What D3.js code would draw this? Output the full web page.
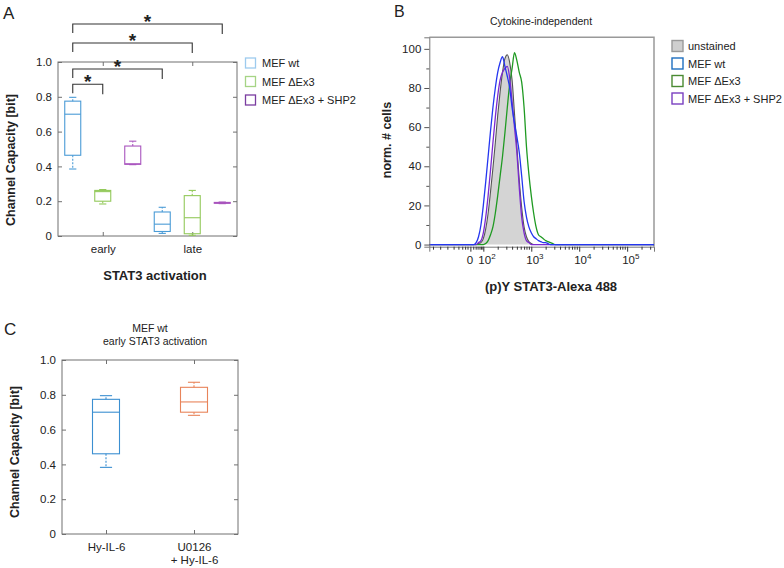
<!DOCTYPE html>
<html><head><meta charset="utf-8">
<script src="https://cdn.jsdelivr.net/npm/d3@7"></script>
<style>
body{margin:0;background:#fff}
svg{font-family:"Liberation Sans",Arial,Helvetica,sans-serif}
</style>
</head><body>
<svg id="chart" width="784" height="568"></svg>
<script>
// ---------------- DATA ----------------
// Panel A: box statistics [min, q1, median, q3, max] per category (early, late)
const catsA = ["early", "late"];
const seriesA = ["MEF wt", "MEF \u0394Ex3", "MEF \u0394Ex3 + SHP2"];
const boxWtA    = [[0.385, 0.464, 0.700, 0.775, 0.797], [0.015, 0.026, 0.068, 0.138, 0.165]];
const boxDEx3A  = [[0.184, 0.200, 0.255, 0.262, 0.267], [0.004, 0.013, 0.105, 0.232, 0.262]];
const boxShp2A  = [[0.410, 0.412, 0.415, 0.517, 0.545], [0.186, 0.188, 0.190, 0.193, 0.195]];
const ticksA = [0, 0.2, 0.4, 0.6, 0.8, 1.0];
// significance brackets: from (series, category) to (series, category) at a level
const sigFromSeries = ["MEF wt", "MEF wt", "MEF wt", "MEF wt"];
const sigFromCat    = ["early", "early", "early", "early"];
const sigToSeries   = ["MEF \u0394Ex3", "MEF wt", "MEF \u0394Ex3", "MEF \u0394Ex3 + SHP2"];
const sigToCat      = ["early", "late", "late", "late"];
const sigLevel      = [0.872, 0.960, 1.109, 1.218];
const sigLabel      = ["*", "*", "*", "*"];

// Panel B: histograms (x in display decades of a logicle axis, y = norm. # cells)
const histBins = [1.80,1.85,1.90,1.95,2.00,2.05,2.10,2.15,2.20,2.25,2.30,2.35,2.40,2.45,2.50,2.55,2.60,2.65,2.70,2.75,2.80,2.85,2.90,2.95,3.00,3.05,3.10,3.15,3.20,3.25,3.30,3.35,3.40,3.45,3.50];
const histUnstained = [0,0,0.5,1,3,8,16,27,39,52,66,78,88,95,97,93,84,67,50,33,19,9,4,1.5,0.5,0,0,0,0,0,0,0,0,0,0];
const histWt        = [0,1,4,10,20,32,45,58,70,80,88,93,96,91,86,80,70,62,55,47,35,22,14,9,6,4,3,2,1.5,1,1,0.5,0,0,0];
const histDEx3      = [0,0,0,0,0,0.5,2,5,9,16,25,35,45,57,70,82,90,98,94,88,83,70,50,36,25,16,9,5,4,3,2,1.5,1,0.5,0];
const histShp2      = [0,0,1,2,6,14,25,38,52,65,76,84,88,90,91,85,73,60,47,29,14,6,2,1,0,0,0,0,0,0,0,0,0,0,0];
const seriesB = ["unstained", "MEF wt", "MEF \u0394Ex3", "MEF \u0394Ex3 + SHP2"];
const ticksBy = [0, 20, 40, 60, 80, 100];
const minorBy = [10, 30, 50, 70, 90];
const ticksBxPos = [1.73, 2, 3, 4, 5];
const ticksBxBase = ["0", "10", "10", "10", "10"];
const ticksBxExp = ["", "2", "3", "4", "5"];
const minorBx = [0.95,1.10,1.25,1.38,1.48,1.56,1.62,1.67,1.79,1.84,1.88,1.92,1.95,1.98,
  2.30,2.48,2.60,2.70,2.78,2.85,2.90,2.95,3.30,3.48,3.60,3.70,3.78,3.85,3.90,3.95,
  4.30,4.48,4.60,4.70,4.78,4.85,4.90,4.95,5.30,5.48];

// Panel C
const catsC = ["Hy-IL-6", "U0126 + Hy-IL-6"];
const catLinesC = [["Hy-IL-6"], ["U0126", "+ Hy-IL-6"]];
const boxC = [[0.383, 0.461, 0.700, 0.774, 0.795], [0.682, 0.700, 0.759, 0.843, 0.872]];
const ticksC = [0, 0.2, 0.4, 0.6, 0.8, 1.0];

// ---------------- STYLE ----------------
const colA = {"MEF wt": "#4a9bd6", "MEF \u0394Ex3": "#93c95a", "MEF \u0394Ex3 + SHP2": "#a955be"};
const legColA = {"MEF wt": "#9dcbee", "MEF \u0394Ex3": "#a6d485", "MEF \u0394Ex3 + SHP2": "#7a3ca0"};
const colB = {"unstained": "#555555", "MEF wt": "#2436f0", "MEF \u0394Ex3": "#1f9a22", "MEF \u0394Ex3 + SHP2": "#7a2ad0"};
const legColB = {"unstained": "#9a9a9a", "MEF wt": "#1f6fc0", "MEF \u0394Ex3": "#4a8a32", "MEF \u0394Ex3 + SHP2": "#7a3fc0"};
const colC = ["#3b8fd1", "#e8845a"];
const axisCol = "#707070";
const textCol = "#222";

const svg = d3.select("#chart");

function styleAxis(g, showText) {
  g.select(".domain").remove();
  g.selectAll(".tick line").attr("stroke", axisCol);
  g.selectAll(".tick text").attr("fill", textCol).style("font-size", "11.5px")
    .style("display", showText ? null : "none");
}

function boxPanel(g, x, y, cx, w, s, col) {
  const [mn, q1, md, q3, mx] = s.map(y);
  const cw = w * 0.45;
  const gg = g.append("g").attr("stroke", col).attr("fill", "none").attr("stroke-width", 1.1);
  gg.append("line").attr("x1", cx).attr("x2", cx).attr("y1", q1).attr("y2", mn).attr("stroke-dasharray", "2,1.5");
  gg.append("line").attr("x1", cx).attr("x2", cx).attr("y1", q3).attr("y2", mx).attr("stroke-dasharray", "2,1.5");
  gg.append("line").attr("x1", cx - cw/2).attr("x2", cx + cw/2).attr("y1", mn).attr("y2", mn);
  gg.append("line").attr("x1", cx - cw/2).attr("x2", cx + cw/2).attr("y1", mx).attr("y2", mx);
  gg.append("rect").attr("x", cx - w/2).attr("width", w).attr("y", q3).attr("height", Math.max(q1 - q3, 0.5));
  gg.append("line").attr("x1", cx - w/2).attr("x2", cx + w/2).attr("y1", md).attr("y2", md);
}

function frameAxes(g, x, y, L, R, T, Bm, yticks, xLabelFn) {
  g.append("rect").attr("x", L).attr("y", T).attr("width", R - L).attr("height", Bm - T)
    .attr("fill", "none").attr("stroke", axisCol).attr("stroke-width", 1);
  const fmt = d => d === 0 ? "0" : d3.format(".1f")(d);
  g.append("g").attr("transform", `translate(${L},0)`)
    .call(d3.axisLeft(y).tickValues(yticks).tickSize(-4).tickPadding(6).tickFormat(fmt))
    .call(a => styleAxis(a, true));
  g.append("g").attr("transform", `translate(${R},0)`)
    .call(d3.axisRight(y).tickValues(yticks).tickSize(-4))
    .call(a => styleAxis(a, false));
  g.append("g").attr("transform", `translate(0,${T})`)
    .call(d3.axisTop(x).tickSize(-4))
    .call(a => styleAxis(a, false));
  const bx = g.append("g").attr("transform", `translate(0,${Bm})`)
    .call(d3.axisBottom(x).tickSize(-4).tickPadding(9))
    .call(a => styleAxis(a, true));
  if (xLabelFn) xLabelFn(bx);
}

// ---------------- PANEL A ----------------
{
  const L = 58, R = 237, T = 62, Bm = 236;
  const g = svg.append("g");
  const y = d3.scaleLinear().domain([0, 1]).range([Bm, T]);
  const x = d3.scalePoint().domain(catsA).range([L, R]).padding(0.5);
  const off = d3.scaleBand().domain(seriesA).range([-45, 45]);
  frameAxes(g, x, y, L, R, T, Bm, ticksA);
  const boxes = [boxWtA, boxDEx3A, boxShp2A];
  seriesA.forEach((s, si) => {
    catsA.forEach((c, ci) => {
      boxPanel(g, x, y, x(c) + off(s) + off.bandwidth()/2, 16, boxes[si][ci], colA[s]);
    });
  });
  const pos = (s, c) => x(c) + off(s) + off.bandwidth()/2;
  sigLevel.forEach((lv, i) => {
    const x1 = pos(sigFromSeries[i], sigFromCat[i]);
    const x2 = pos(sigToSeries[i], sigToCat[i]);
    const yl = y(lv);
    g.append("path").attr("d", `M${x1},${yl + 9}V${yl}H${x2}V${yl + 10}`)
      .attr("fill", "none").attr("stroke", "#333").attr("stroke-width", 1.1);
    g.append("text").attr("x", (x1 + x2)/2).attr("y", yl + 4).attr("text-anchor", "middle")
      .style("font-size", "19px").style("font-weight", "bold").attr("fill", "#222").text(sigLabel[i]);
  });
  g.append("text").attr("transform", `translate(15,160) rotate(-90)`).attr("text-anchor", "middle")
    .style("font-size", "12.5px").style("font-weight", "bold").attr("fill", textCol).text("Channel Capacity [bit]");
  g.append("text").attr("x", 155).attr("y", 280).attr("text-anchor", "middle")
    .style("font-size", "13px").style("font-weight", "bold").attr("fill", textCol).text("STAT3 activation");
  g.append("text").attr("x", 3).attr("y", 19).style("font-size", "17px").attr("fill", textCol).text("A");
  const lg = g.append("g");
  seriesA.forEach((s, i) => {
    const cy = 63 + i * 18.5;
    lg.append("rect").attr("x", 245.5).attr("y", cy - 5).attr("width", 10).attr("height", 10)
      .attr("fill", "#fff").attr("stroke", legColA[s]).attr("stroke-width", 1.3);
    lg.append("text").attr("x", 262).attr("y", cy + 4).style("font-size", "11px").attr("fill", textCol).text(s);
  });
}

// ---------------- PANEL B ----------------
{
  const L = 429.3, R = 654, T = 37.3, Bm = 246.7;
  const g = svg.append("g");
  const x = d3.scaleLinear().domain([0.873, 5.56]).range([L, R]);
  const y = d3.scaleLinear().domain([-1.1, 105.9]).range([Bm, T]);
  g.append("path").attr("d", `M${L},${T}H${R}V${Bm}`).attr("fill", "none").attr("stroke", "#999").attr("stroke-width", 1.5);
  const xd = x.domain();
  const pts = arr => [[xd[0], 0]].concat(histBins.map((b, i) => [b, arr[i]])).concat([[xd[1], 0]]);
  const line = d3.line().x(d => x(d[0])).y(d => y(d[1])).curve(d3.curveMonotoneX);
  const area = d3.area().x(d => x(d[0])).y0(y(0)).y1(d => y(d[1])).curve(d3.curveMonotoneX);
  g.append("path").datum(pts(histUnstained)).attr("d", area).attr("fill", "#d4d4d4");
  g.append("path").datum(pts(histUnstained)).attr("d", line).attr("fill", "none").attr("stroke", colB["unstained"]).attr("stroke-width", 1.1);
  const order = [["MEF \u0394Ex3", histDEx3], ["MEF \u0394Ex3 + SHP2", histShp2], ["MEF wt", histWt]];
  order.forEach(([s, arr]) => {
    g.append("path").datum(pts(arr)).attr("d", line).attr("fill", "none").attr("stroke", colB[s]).attr("stroke-width", 1.3);
  });
  const ya = g.append("g").attr("transform", `translate(${L},0)`)
    .call(d3.axisLeft(y).tickValues(ticksBy).tickSize(5).tickPadding(3));
  ya.select(".domain").attr("stroke", "#777");
  ya.selectAll(".tick line").attr("stroke", "#555");
  ya.selectAll(".tick text").style("font-size", "11.5px").attr("fill", textCol);
  const ym = g.append("g").attr("transform", `translate(${L},0)`)
    .call(d3.axisLeft(y).tickValues(minorBy).tickSize(3).tickFormat(""));
  ym.select(".domain").remove(); ym.selectAll(".tick line").attr("stroke", "#555");
  const xa = g.append("g").attr("transform", `translate(0,${Bm})`)
    .call(d3.axisBottom(x).tickValues(ticksBxPos).tickSize(5).tickFormat(""));
  xa.select(".domain").attr("stroke", "#777");
  xa.selectAll(".tick line").attr("stroke", "#333");
  xa.selectAll(".tick").append("text").attr("y", 17).attr("fill", textCol)
    .style("font-size", "11.5px")
    .each(function(d, i) {
      const t = d3.select(this);
      if (ticksBxExp[i]) {
        t.attr("text-anchor", "start").attr("x", -5.5);
        t.append("tspan").text(ticksBxBase[i]);
        t.append("tspan").attr("dy", -5).style("font-size", "8px").text(ticksBxExp[i]);
      } else {
        t.attr("text-anchor", "middle").attr("x", -1).text(ticksBxBase[i]);
      }
    });
  const xm = g.append("g").attr("transform", `translate(0,${Bm})`)
    .call(d3.axisBottom(x).tickValues(minorBx).tickSize(3).tickFormat(""));
  xm.select(".domain").remove(); xm.selectAll(".tick line").attr("stroke", "#333");
  g.append("text").attr("x", 541).attr("y", 25).attr("text-anchor", "middle").style("font-size", "10.5px").attr("fill", textCol).text("Cytokine-independent");
  g.append("text").attr("transform", `translate(391,140) rotate(-90)`).attr("text-anchor", "middle")
    .style("font-size", "12.5px").style("font-weight", "bold").attr("fill", textCol).text("norm. # cells");
  g.append("text").attr("x", 551).attr("y", 291).attr("text-anchor", "middle")
    .style("font-size", "13px").style("font-weight", "bold").attr("fill", textCol).text("(p)Y STAT3-Alexa 488");
  g.append("text").attr("x", 394).attr("y", 17).style("font-size", "16px").attr("fill", textCol).text("B");
  seriesB.forEach((s, i) => {
    const cy = 46 + i * 17.5;
    g.append("rect").attr("x", 672).attr("y", cy - 5.5).attr("width", 11).attr("height", 11)
      .attr("fill", s === "unstained" ? "#cfcfcf" : "#fff").attr("stroke", legColB[s]).attr("stroke-width", 1.4);
    g.append("text").attr("x", 688).attr("y", cy + 4).style("font-size", "11px").attr("fill", textCol).text(s);
  });
}

// ---------------- PANEL C ----------------
{
  const L = 62, R = 238, T = 360, Bm = 534;
  const g = svg.append("g");
  const y = d3.scaleLinear().domain([0, 1]).range([Bm, T]);
  const x = d3.scalePoint().domain(catsC).range([L, R]).padding(0.5);
  frameAxes(g, x, y, L, R, T, Bm, ticksC, bx => {
    bx.selectAll(".tick text").text("").each(function(d, i) {
      const t = d3.select(this);
      catLinesC[i].forEach((ln, k) => t.append("tspan").attr("x", 0).attr("dy", k === 0 ? "0.71em" : "1.15em").text(ln));
    }).attr("dy", null);
  });
  catsC.forEach((c, i) => boxPanel(g, x, y, x(c), 27, boxC[i], colC[i]));
  g.append("text").attr("transform", `translate(19,452) rotate(-90)`).attr("text-anchor", "middle")
    .style("font-size", "12.5px").style("font-weight", "bold").attr("fill", textCol).text("Channel Capacity [bit]");
  g.append("text").attr("x", 150).attr("y", 332).attr("text-anchor", "middle").style("font-size", "10.5px").attr("fill", textCol).text("MEF wt");
  g.append("text").attr("x", 155).attr("y", 344.5).attr("text-anchor", "middle").style("font-size", "10.5px").attr("fill", textCol).text("early STAT3 activation");
  g.append("text").attr("x", 4).attr("y", 335).style("font-size", "17px").attr("fill", textCol).text("C");
}
</script>
</body></html>
